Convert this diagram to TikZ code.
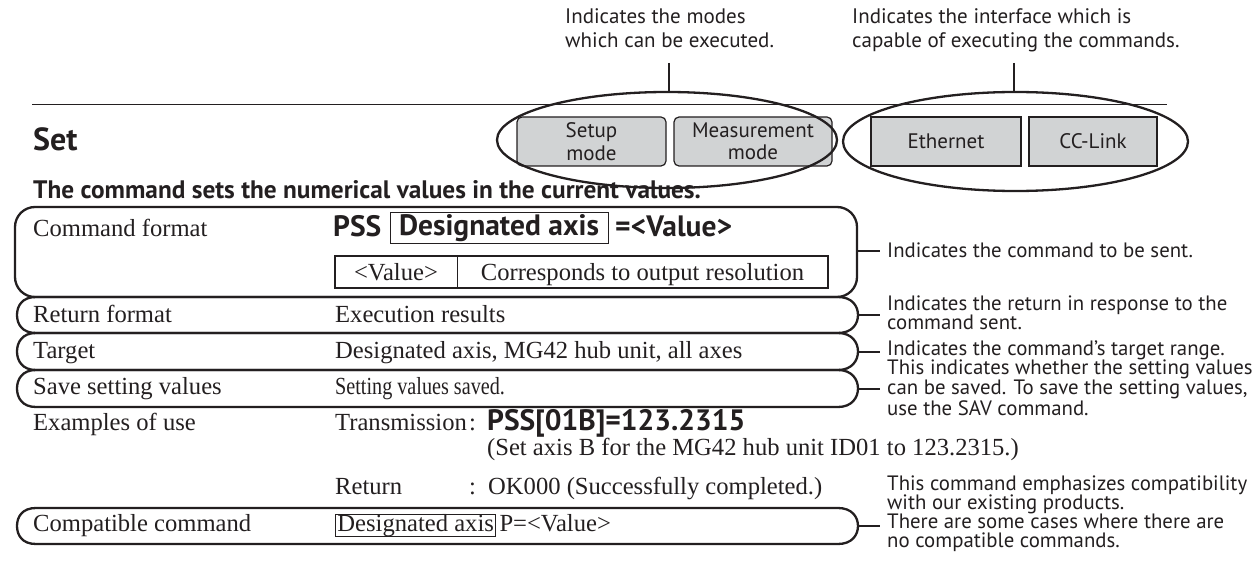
\documentclass[tikz,border=0pt]{standalone}
\usepackage{fontspec}
\usepackage{graphicx}
\setmainfont{Liberation Serif}
\setsansfont{PT Sans}
\usetikzlibrary{shapes.geometric}

\definecolor{inkblack}{RGB}{35,31,32}
\definecolor{boxgray}{RGB}{209,211,212}

\newcommand{\rowfont}{\fontsize{24.6}{28}\selectfont}
\newcommand{\notefont}{\sffamily\fontsize{20.8}{19}\selectfont}
\newcommand{\cmdfont}{\sffamily\bfseries\fontsize{29.5}{32}\selectfont}

\tikzstyle{bracket}=[inkblack, line width=2.3]
\tikzstyle{leader}=[inkblack, line width=2]
\tikzstyle{modebox}=[draw=inkblack, fill=boxgray, line width=1.2, rounded corners=5, minimum height=49, inner sep=0, align=center, font=\sffamily\fontsize{21}{22.5}\selectfont]
\tikzstyle{portbox}=[modebox, rounded corners=0]
\tikzstyle{bigoval}=[draw=inkblack, ellipse, line width=2.3, inner sep=0]
\tikzstyle{rowlabel}=[anchor=base west, inner sep=0, font=\rowfont]
\tikzstyle{note}=[anchor=base west, inner xsep=7, inner ysep=0, align=left, font=\notefont]
\tikzstyle{valcell}=[inner sep=0, minimum height=32, text height=18, text depth=2, font=\rowfont]

\newcommand{\rowpill}[2]{
  \draw[bracket] (36,#1) -- (838,#1)
    .. controls (852,#1) and (858,{(#1+#2)/2-9}) .. (858,{(#1+#2)/2})
    .. controls (858,{(#1+#2)/2+9}) and (852,#2) .. (838,#2) -- (36,#2)
    .. controls (22,#2) and (17,{(#1+#2)/2+9}) .. (17,{(#1+#2)/2})
    .. controls (17,{(#1+#2)/2-9}) and (22,#1) .. (36,#1) -- cycle;
}

\begin{document}
\begin{tikzpicture}[x=1pt, y=-1pt, inkblack]
  \useasboundingbox (0,0) rectangle (1259,564);
  \draw[line width=0.8] (32,104) -- (1167,104);
  \node[modebox, minimum width=149] (SM) at (591.5,141.5) {Setup\\mode};
  \node[modebox, minimum width=158] (MM) at (753,141.5) {Measurement\\mode};
  \node[portbox, minimum width=150] (ET) at (946,141.5) {Ethernet};
  \node[portbox, minimum width=128] (CC) at (1093,141.5) {CC-Link};
  \node[bigoval, minimum width=340, minimum height=96] (E1) at (667,140) {};
  \node[bigoval, minimum width=345, minimum height=99] (E2) at (1015.5,141.5) {};
  \node[note, inner xsep=0, font=\sffamily\fontsize{21}{24}\selectfont] (T1) at (565,48) {Indicates the modes\\which can be executed.};
  \node[note, inner xsep=0, font=\sffamily\fontsize{21}{24}\selectfont] (T2) at (852,48) {Indicates the interface which is\\capable of executing the commands.};
  \coordinate (T1b) at (669,63);
  \coordinate (T2b) at (1014,63);
  \draw[leader] (T1b) -- (E1.north -| T1b);
  \draw[leader] (T2b) -- (E2.north -| T2b);

  \node[anchor=base west, inner sep=0, font=\sffamily\bfseries\fontsize{32}{36}\selectfont] (SET) at (33,151) {Set};
  \node[anchor=base west, inner sep=0, font=\sffamily\bfseries\fontsize{25.3}{28}\selectfont] (HD) at (33,199) {The command sets the numerical values in the current values.};

  \draw[bracket, rounded corners=20] (15,207) rectangle (857,297);
  \rowpill{297}{333}
  \rowpill{333}{370}
  \rowpill{370}{407}
  \rowpill{508}{544}

  \node[rowlabel] (L1) at (33,237) {Command format};
  \node[anchor=base west, inner sep=0, font=\cmdfont] (PSS) at (333,237) {PSS};
  \node[draw, line width=1, inner sep=0, minimum width=218, minimum height=31, text height=20, text depth=5, font=\cmdfont] (AX) at (499,228.5) {Designated axis};
  \node[anchor=base west, inner sep=0, font=\cmdfont] (EQ) at (615,237) {=<Value>};
  \node[valcell, minimum width=122] (V1) at (396,272) {<Value>};
  \node[valcell, minimum width=371] (V2) at (642.5,272) {Corresponds to output resolution};
  \draw[line width=2] (V1.north west) rectangle (V2.south east);
  \draw[line width=0.9] (V1.north east) -- (V1.south east);

  \node[rowlabel] (L2) at (33,322) {Return format};
  \node[rowlabel] (D2) at (335,322) {Execution results};
  \node[rowlabel] (L3) at (33,358) {Target};
  \node[rowlabel] (D3) at (335,358) {Designated axis, MG42 hub unit, all axes};
  \node[rowlabel] (L4) at (33,394) {Save setting values};
  \node[rowlabel] (D4) at (335,394) {\scalebox{0.82}[1]{Setting values saved.}};
  \node[rowlabel] (L5) at (33,430) {Examples of use};
  \node[rowlabel] (TX) at (335,430) {Transmission};
  \node[rowlabel] (TXc) at (469,430) {:};
  \node[anchor=base west, inner sep=0, font=\cmdfont] (TXv) at (487,430) {PSS[01B]=123.2315};
  \node[rowlabel] (TXn) at (487,455) {(Set axis B for the MG42 hub unit ID01 to 123.2315.)};
  \node[rowlabel] (RX) at (335,494) {Return};
  \node[rowlabel] (RXc) at (469,494) {:};
  \node[rowlabel] (RXv) at (488,494) {OK000 (Successfully completed.)};
  \node[rowlabel] (L6) at (33,531) {Compatible command};
  \node[rowlabel, draw, line width=0.9, inner xsep=2, text height=17, text depth=5] (AXC) at (335,531) {Designated axis};
  \node[rowlabel, inner xsep=3] (PV) at (AXC.base east) {P=<Value>};

  \coordinate (K1) at (857,251);
  \coordinate (K2) at (858,315);
  \coordinate (K3) at (858,351.5);
  \coordinate (K4) at (858,388.5);
  \coordinate (K5) at (858,526);
  \node[note] (A1) at (880,258) {Indicates the command to be sent.};
  \node[note] (A2) at (880,329) {Indicates the return in response to the\\command sent.};
  \node[note] (A3) at (880,355) {Indicates the command's target range.};
  \node[note] (A4) at (880,415) {This indicates whether the setting values\\can be saved. To save the setting values,\\use the SAV command.};
  \node[note] (A5) at (880,547) {This command emphasizes compatibility\\with our existing products.\\There are some cases where there are\\no compatible commands.};
  \draw[leader] (K1) -- (K1 -| A1.west);
  \draw[leader] (K2) -- (K2 -| A2.west);
  \draw[leader] (K3) -- (K3 -| A3.west);
  \draw[leader] (K4) -- (K4 -| A4.west);
  \draw[leader] (K5) -- (K5 -| A5.west);
\end{tikzpicture}
\end{document}
